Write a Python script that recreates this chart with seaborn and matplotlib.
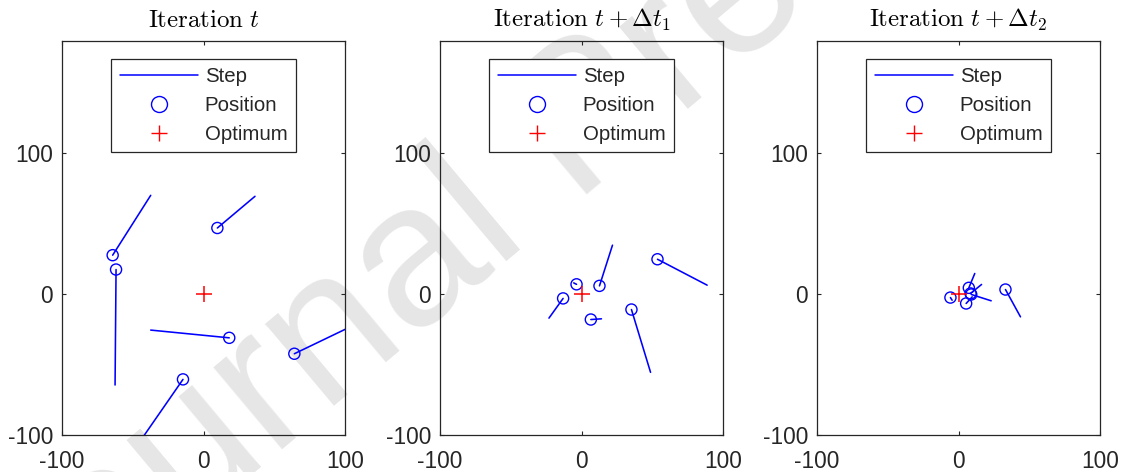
import numpy as np
import pandas as pd
import matplotlib
matplotlib.use("Agg")
import matplotlib.pyplot as plt
from matplotlib.lines import Line2D
import seaborn as sns

# ---------------- data ----------------
titles = [r"$\mathrm{Iteration}\ t$",
          r"$\mathrm{Iteration}\ t + \Delta t_1$",
          r"$\mathrm{Iteration}\ t + \Delta t_2$"]

# panel 1 (iteration t)
pos1_x = [-64.2, -61.8, 9.8, 18.2, 64.2, -14.5]
pos1_y = [27.7, 17.5, 47.0, -31.0, -42.3, -60.5]
end1_x = [-37.3, -62.5, 36.4, -37.3, 105.0, -44.5]
end1_y = [70.2, -64.5, 69.5, -25.5, -22.6, -104.0]

# panel 2 (iteration t + dt1)
pos2_x = [-13.0, -3.5, 12.7, 6.6, 35.3, 53.7]
pos2_y = [-3.0, 7.0, 5.9, -18.0, -10.9, 24.8]
end2_x = [-23.0, -5.5, 21.9, 14.1, 48.8, 88.8]
end2_y = [-17.0, 8.0, 34.8, -17.5, -55.5, 6.4]

# panel 3 (iteration t + dt2)
pos3_x = [-5.7, 7.3, 8.5, 9.0, 5.4, 33.2]
pos3_y = [-2.4, 4.5, 0.5, -0.2, -6.6, 3.3]
end3_x = [-4.5, 11.5, 16.3, 23.1, 9.7, 43.8]
end3_y = [-4.3, 14.7, 6.9, -4.7, -1.9, -16.1]

optimum_x = [0.0]
optimum_y = [0.0]

legend_labels = ["Step", "Position", "Optimum"]
ticks = [-100, 0, 100]
tick_labels = ["-100", "0", "100"]

panels = [(pos1_x, pos1_y, end1_x, end1_y),
          (pos2_x, pos2_y, end2_x, end2_y),
          (pos3_x, pos3_y, end3_x, end3_y)]

# ---------------- style ----------------
sns.set_style("ticks")
plt.rcParams["font.family"] = ["Liberation Sans", "DejaVu Sans"]
plt.rcParams["mathtext.fontset"] = "cm"
dark = "#262626"

W, H = 1122, 472
fig = plt.figure(figsize=(W / 100, H / 100), dpi=100)
fig.patch.set_facecolor("white")

# watermark (behind everything)
fig.text(22 / W, (H - 668) / H, "Journal Pre-proof", rotation=40,
         rotation_mode="anchor", ha="left", va="baseline",
         fontsize=146, color="#e6e6e6", zorder=-5,
         family=["Liberation Sans", "DejaVu Sans"])

lefts = [62, 440, 817]
ax_w = 283
ax_top = 40.7
ax_bottom = 435

for i, (px, py, ex, ey) in enumerate(panels):
    ax = fig.add_axes([lefts[i] / W, (H - ax_bottom) / H,
                       ax_w / W, (ax_bottom - ax_top) / H])
    ax.set_facecolor("none")

    seg_rows = []
    for k in range(len(px)):
        seg_rows.append({"x": px[k], "y": py[k], "seg": k})
        seg_rows.append({"x": ex[k], "y": ey[k], "seg": k})
    seg_df = pd.DataFrame(seg_rows)

    sns.lineplot(data=seg_df, x="x", y="y", units="seg", estimator=None,
                 sort=False, color="blue", lw=1.15, ax=ax, legend=False)
    sns.scatterplot(x=px, y=py, marker="o", s=64, facecolors="none",
                    edgecolor="blue", linewidth=1.0, ax=ax, legend=False,
                    zorder=3)
    sns.scatterplot(x=optimum_x, y=optimum_y, marker="+", s=125,
                    color="red", linewidth=1.1, ax=ax, legend=False,
                    zorder=4)

    ax.set_xlim(-100, 100)
    ax.set_ylim(-100, 180)
    ax.set_xticks(ticks)
    ax.set_xticklabels(tick_labels)
    ax.set_yticks(ticks)
    ax.set_yticklabels(tick_labels)
    ax.set_xlabel("")
    ax.set_ylabel("")
    ax.tick_params(axis="both", direction="in", length=3, width=0.8,
                   colors=dark, labelsize=16.3, top=True, right=True)
    ax.tick_params(axis="x", pad=10.5)
    ax.tick_params(axis="y", pad=6.5)
    for sp in ax.spines.values():
        sp.set_visible(True)
        sp.set_color(dark)
        sp.set_linewidth(0.9)

    ax.set_title(titles[i], fontsize=17.9, color="black", pad=9.9)

    handles = [
        Line2D([], [], color="blue", lw=1.1),
        Line2D([], [], color="blue", marker="o", ls="none", markersize=11.5,
               markerfacecolor="none", markeredgewidth=1.0),
        Line2D([], [], color="red", marker="+", ls="none", markersize=11,
               markeredgewidth=1.0),
    ]
    leg = ax.legend(handles, legend_labels, loc="upper center",
                    bbox_to_anchor=(0.5, 1 - 18 / (ax_bottom - ax_top)),
                    borderaxespad=0, fontsize=14.7, frameon=True,
                    fancybox=False, framealpha=1, edgecolor=dark,
                    handlelength=3.82, handletextpad=0.34,
                    labelspacing=0.47, borderpad=0.43)
    leg.get_frame().set_linewidth(0.9)

fig.savefig("out.png", dpi=100, facecolor="white")
